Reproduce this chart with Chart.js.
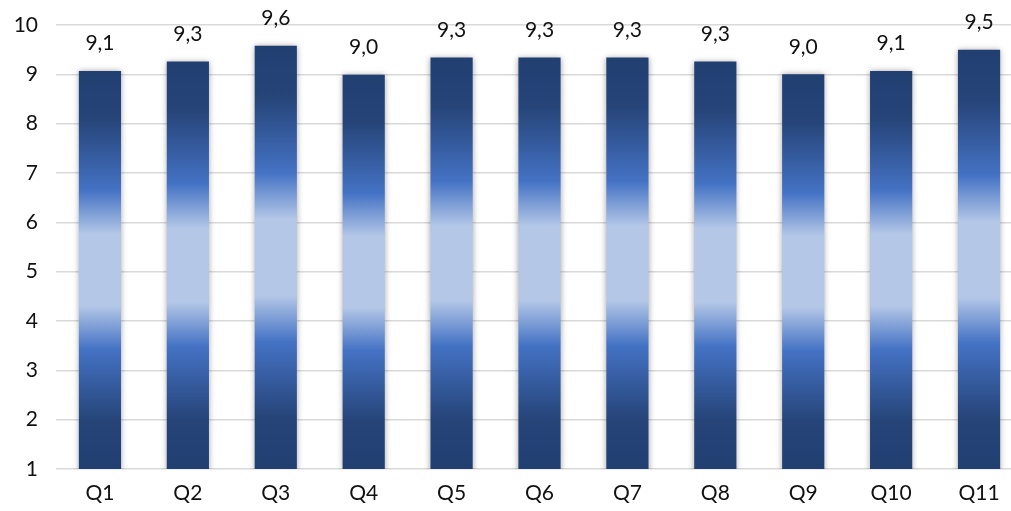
<!DOCTYPE html>
<html>
<head>
<meta charset="utf-8">
<script src="https://cdn.jsdelivr.net/npm/chart.js@4"></script>
<style>
  html, body { margin: 0; padding: 0; background: #fff; overflow: hidden; }
  #wrap { width: 1024px; height: 511px; }
</style>
</head>
<body>
<div id="wrap"><canvas id="myChart"></canvas></div>
<script>
const categories = ["Q1", "Q2", "Q3", "Q4", "Q5", "Q6", "Q7", "Q8", "Q9", "Q10", "Q11"];
const scores = [9.07, 9.26, 9.58, 8.99, 9.34, 9.34, 9.34, 9.26, 9.0, 9.07, 9.5];
const yTicks = [1, 2, 3, 4, 5, 6, 7, 8, 9, 10];

const FONT = "Lato, 'Open Sans', sans-serif";

function barGradient(context) {
  const chart = context.chart;
  if (!chart.chartArea) return "#4472C4";
  const y = chart.scales.y;
  const top = y.getPixelForValue(context.raw);
  const bottom = y.getPixelForValue(1);
  const g = chart.ctx.createLinearGradient(0, top, 0, bottom);
  g.addColorStop(0, "#223F72");
  g.addColorStop(0.12, "#264478");
  g.addColorStop(0.3, "#4472C4");
  g.addColorStop(0.41, "#B4C7E7");
  g.addColorStop(0.59, "#B4C7E7");
  g.addColorStop(0.7, "#4472C4");
  g.addColorStop(0.88, "#264478");
  g.addColorStop(1, "#223F72");
  return g;
}

// soft shadow round the bars and the value labels above them
const barExtras = {
  id: "barExtras",
  beforeDatasetDraw(chart) {
    const ctx = chart.ctx;
    ctx.save();
    ctx.shadowColor = "rgba(0,0,0,0.35)";
    ctx.shadowBlur = 6;
  },
  afterDatasetDraw(chart) {
    chart.ctx.restore();
  },
  afterDatasetsDraw(chart) {
    const ctx = chart.ctx;
    const meta = chart.getDatasetMeta(0);
    ctx.save();
    ctx.font = "21px " + FONT;
    ctx.fillStyle = "#111";
    ctx.textAlign = "center";
    ctx.textBaseline = "bottom";
    meta.data.forEach((bar, i) => {
      const txt = scores[i].toFixed(1).replace(".", ",");
      ctx.fillText(txt, bar.x, bar.y - 17);
    });
    ctx.restore();
  }
};

new Chart(document.getElementById("myChart"), {
  type: "bar",
  data: {
    labels: categories,
    datasets: [{
      data: scores,
      backgroundColor: barGradient,
      borderWidth: 0,
      barPercentage: 0.48,
      categoryPercentage: 1
    }]
  },
  options: {
    responsive: true,
    maintainAspectRatio: false,
    animation: false,
    layout: { padding: { top: 25, right: 1, left: 0, bottom: 0 } },
    plugins: { legend: { display: false }, tooltip: { enabled: false } },
    scales: {
      x: {
        afterFit(axis) { axis.height = 42; },
        grid: { display: false, drawTicks: false },
        border: { display: false },
        ticks: { color: "#111", font: { family: FONT, size: 21 }, padding: 12 }
      },
      y: {
        min: 1,
        max: 10,
        afterFit(axis) { axis.width = 56; axis.paddingTop = 0; axis.paddingBottom = 0; },
        afterBuildTicks(axis) { axis.ticks = yTicks.map(v => ({ value: v })); },
        grid: { color: "#d9d9d9", lineWidth: 1.5, drawTicks: false },
        border: { display: false },
        ticks: { color: "#111", font: { family: FONT, size: 21 }, padding: 18 }
      }
    }
  },
  plugins: [barExtras]
});
</script>
</body>
</html>
